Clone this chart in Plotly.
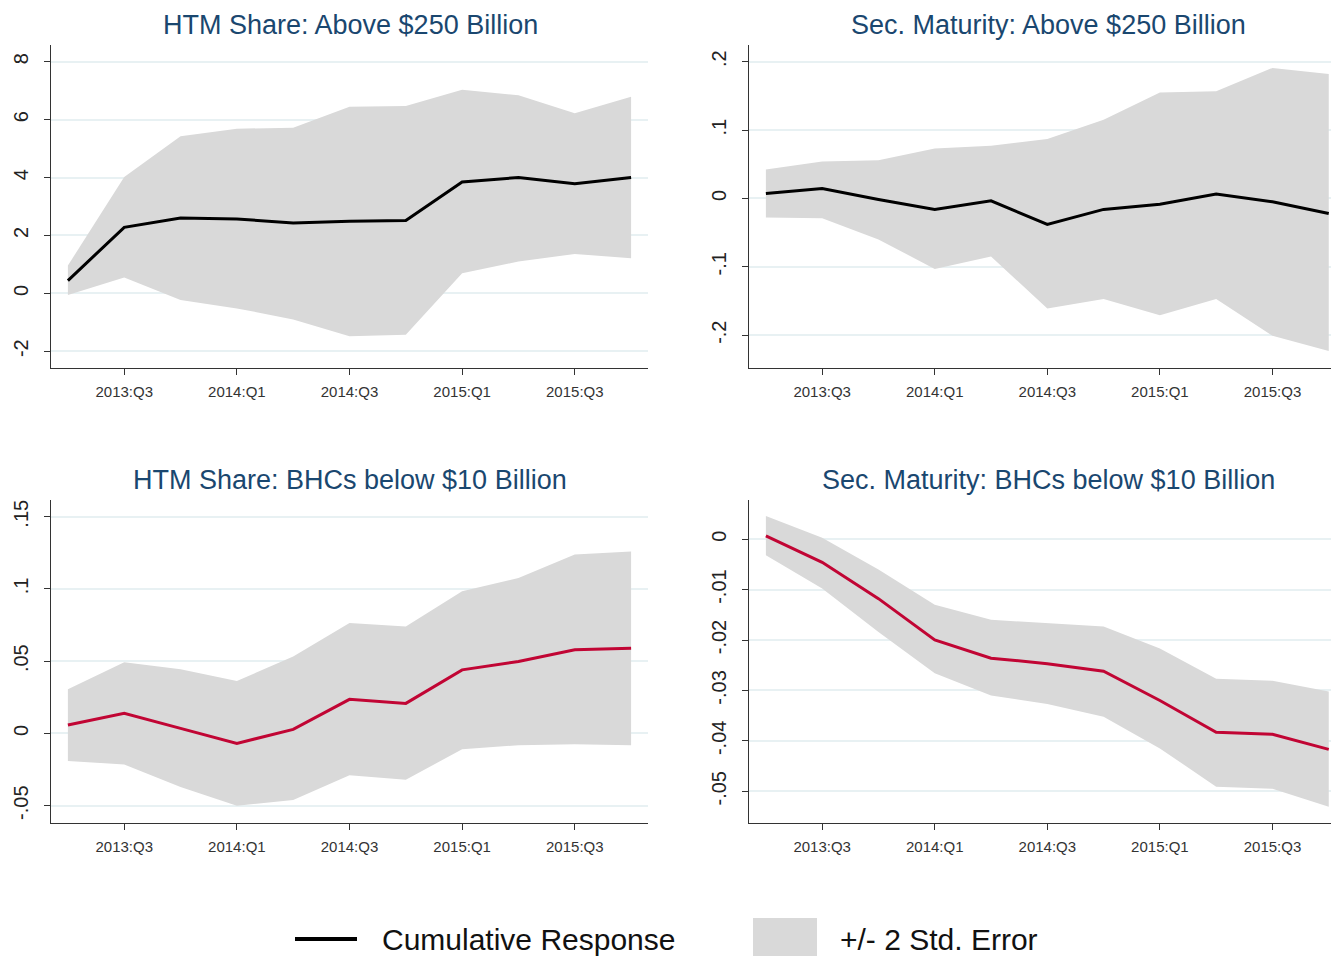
import plotly.graph_objects as go

# Quarters on the x axis
quarters = ["2013:Q2", "2013:Q3", "2013:Q4", "2014:Q1", "2014:Q2", "2014:Q3",
            "2014:Q4", "2015:Q1", "2015:Q2", "2015:Q3", "2015:Q4"]
tick_quarters = ["2013:Q3", "2014:Q1", "2014:Q3", "2015:Q1", "2015:Q3"]

# HTM Share: Above $250 Billion
htm_big = [0.44, 2.28, 2.6, 2.57, 2.43, 2.49, 2.52, 3.85, 4.0, 3.79, 4.0]
htm_big_hi = [0.96, 4.02, 5.43, 5.69, 5.72, 6.45, 6.47, 7.03, 6.84, 6.22, 6.79]
htm_big_lo = [-0.06, 0.55, -0.23, -0.52, -0.9, -1.48, -1.43, 0.69, 1.1, 1.36, 1.21]

# Sec. Maturity: Above $250 Billion
mat_big = [0.0073, 0.0147, -0.0015, -0.016, -0.0034, -0.038, -0.016, -0.0083, 0.0064, -0.0049, -0.022]
mat_big_hi = [0.0425, 0.054, 0.056, 0.073, 0.077, 0.087, 0.115, 0.155, 0.157, 0.191, 0.182]
mat_big_lo = [-0.028, -0.029, -0.06, -0.103, -0.085, -0.161, -0.147, -0.171, -0.147, -0.201, -0.223]

# HTM Share: BHCs below $10 Billion
htm_small = [0.0058, 0.0139, 0.0035, -0.0069, 0.0028, 0.0236, 0.0208, 0.044, 0.0498, 0.0579, 0.059]
htm_small_hi = [0.0306, 0.0493, 0.0444, 0.0363, 0.0532, 0.0764, 0.074, 0.0984, 0.1076, 0.1238, 0.126]
htm_small_lo = [-0.019, -0.0215, -0.037, -0.050, -0.046, -0.029, -0.032, -0.011, -0.0081, -0.0074, -0.0081]

# Sec. Maturity: BHCs below $10 Billion
mat_small = [0.00066, -0.0046, -0.0118, -0.020, -0.0236, -0.0247, -0.0262, -0.032, -0.0383, -0.0387, -0.0417]
mat_small_hi = [0.0046, 0.0003, -0.006, -0.013, -0.016, -0.0167, -0.0173, -0.0217, -0.0277, -0.0281, -0.0302]
mat_small_lo = [-0.0032, -0.0098, -0.0184, -0.0266, -0.031, -0.0327, -0.0352, -0.0415, -0.0491, -0.0495, -0.0531]

W, H = 1331, 956
FONT = "Liberation Sans, Arial, sans-serif"
BAND = "#d9d9d9"
GRID = "#e8f1f3"
TITLE_COL = "#1a476f"


def px_x(p):
    return p / W


def px_y(p):
    return 1 - p / H


panels = [
    # title, line, hi, lo, colour, y ticks, y tick text, y range, x domain px, y domain px, x range, title x
    ("HTM Share: Above $250 Billion", htm_big, htm_big_hi, htm_big_lo, "black",
     [-2, 0, 2, 4, 6, 8], ["-2", "0", "2", "4", "6", "8"], [-2.58, 8.58],
     (51, 648), (45, 368), [-0.3, 10.3], 350),
    ("Sec. Maturity: Above $250 Billion", mat_big, mat_big_hi, mat_big_lo, "black",
     [-0.2, -0.1, 0, 0.1, 0.2], ["-.2", "-.1", "0", ".1", ".2"], [-0.248, 0.2245],
     (749, W), (45, 368), [-0.3, 10.04], 1048),
    ("HTM Share: BHCs below $10 Billion", htm_small, htm_small_hi, htm_small_lo, "#c10534",
     [-0.05, 0, 0.05, 0.1, 0.15], ["-.05", "0", ".05", ".1", ".15"], [-0.062, 0.1616],
     (51, 648), (500, 823), [-0.3, 10.3], 350),
    ("Sec. Maturity: BHCs below $10 Billion", mat_small, mat_small_hi, mat_small_lo, "#c10534",
     [-0.05, -0.04, -0.03, -0.02, -0.01, 0], ["-.05", "-.04", "-.03", "-.02", "-.01", "0"],
     [-0.0563, 0.00777], (749, W), (500, 823), [-0.3, 10.04], 1048),
]

fig = go.Figure()
annotations = []

for i, (title, line, hi, lo, col, yt, ytt, yr, xd, yd, xr, tx) in enumerate(panels):
    n = "" if i == 0 else str(i + 1)
    xa, ya = "x" + n, "y" + n

    # confidence band
    fig.add_trace(go.Scatter(
        x=quarters + quarters[::-1], y=hi + lo[::-1],
        fill="toself", fillcolor=BAND, line=dict(width=0),
        mode="lines", hoverinfo="skip", showlegend=False,
        xaxis=xa, yaxis=ya))
    # cumulative response
    fig.add_trace(go.Scatter(
        x=quarters, y=line, mode="lines",
        line=dict(color=col, width=3), showlegend=False,
        xaxis=xa, yaxis=ya))

    fig.layout["xaxis" + n] = dict(
        domain=[px_x(xd[0]), px_x(xd[1])],
        anchor=ya, type="category", categoryorder="array", categoryarray=quarters,
        range=xr, tickmode="array", tickvals=tick_quarters, ticktext=tick_quarters,
        showgrid=False, zeroline=False, showline=True, linecolor="#333333", linewidth=1.3,
        ticks="outside", ticklen=6, tickcolor="#333333", ticklabelstandoff=4,
        tickfont=dict(family=FONT, size=15, color="#333333"))
    fig.layout["yaxis" + n] = dict(
        domain=[px_y(yd[1]), px_y(yd[0])],
        anchor=xa, range=yr, tickmode="array", tickvals=yt, ticktext=ytt,
        tickangle=-90, showgrid=True, gridcolor=GRID, gridwidth=2,
        zeroline=False, showline=True, linecolor="#333333", linewidth=1.3,
        ticks="outside", ticklen=6, tickcolor="#333333", ticklabelstandoff=8,
        tickfont=dict(family=FONT, size=20, color="#222222"))

    annotations.append(dict(
        text=title, xref="paper", yref="paper",
        x=px_x(tx), y=px_y(yd[0] - 20), xanchor="center", yanchor="middle", showarrow=False,
        font=dict(family=FONT, size=27, color=TITLE_COL)))

# legend drawn below the panels
annotations.append(dict(
    text="Cumulative Response", xref="paper", yref="paper",
    x=px_x(380), y=px_y(939), xanchor="left", yanchor="middle", showarrow=False,
    font=dict(family=FONT, size=30, color="#111111")))
annotations.append(dict(
    text="+/- 2 Std. Error", xref="paper", yref="paper",
    x=px_x(838), y=px_y(939), xanchor="left", yanchor="middle", showarrow=False,
    font=dict(family=FONT, size=30, color="#111111")))

shapes = [
    dict(type="line", xref="paper", yref="paper",
         x0=px_x(295), x1=px_x(357), y0=px_y(939), y1=px_y(939),
         line=dict(color="black", width=4)),
    dict(type="rect", xref="paper", yref="paper",
         x0=px_x(753), x1=px_x(817), y0=px_y(956), y1=px_y(918),
         fillcolor=BAND, line=dict(width=0)),
]

fig.update_layout(
    width=W, height=H,
    margin=dict(l=0, r=0, t=0, b=0),
    paper_bgcolor="white", plot_bgcolor="white",
    annotations=annotations, shapes=shapes,
    showlegend=False,
)

# drop the default page margin so the figure fills the window exactly
fig.write_html("out.html", config={"displayModeBar": False},
               post_script="document.body.style.margin='0';document.body.style.overflow='hidden';")
